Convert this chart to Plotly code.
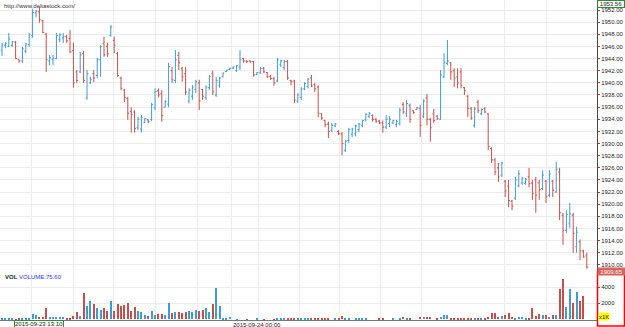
import plotly.graph_objects as go

# ---------------- data (5-minute bars) ----------------
open_ = [
    1945.4, 1946.2, 1946.0, 1946.2, 1946.7, 1943.9, 1943.6, 1945.2, 1946.3, 1947.8,
    1951.5, 1951.7, 1950.2, 1948.0, 1943.6, 1943.8, 1944.0, 1947.2, 1947.4, 1947.6,
    1947.3, 1945.3, 1941.8, 1941.8, 1944.8, 1937.5, 1940.0, 1941.5, 1941.2, 1943.8,
    1946.5, 1946.0, 1947.8, 1947.0, 1944.8, 1940.8, 1938.8, 1937.4, 1935.3, 1935.2,
    1932.6, 1932.4, 1933.5, 1933.9, 1934.0, 1935.9, 1938.7, 1938.2, 1936.0, 1936.5,
    1942.0, 1940.4, 1944.5, 1942.3, 1941.5, 1937.0, 1937.8, 1938.9, 1940.0, 1938.9,
    1937.6, 1939.2, 1941.5, 1938.0, 1939.6, 1941.0, 1941.85, 1942.2, 1942.4, 1942.0,
    1942.6, 1944.0, 1943.6, 1943.6, 1943.5, 1941.4, 1941.6, 1942.4, 1941.7, 1941.0,
    1940.7, 1940.3, 1943.0, 1942.5, 1943.5, 1940.4, 1940.3, 1937.0, 1937.6, 1939.0,
    1939.4, 1940.8, 1939.7, 1939.3, 1934.9, 1933.8, 1933.2, 1932.2, 1932.9, 1932.0,
    1931.6, 1928.9, 1930.5, 1931.5, 1931.6, 1932.3, 1933.0, 1933.9, 1934.5, 1934.6,
    1934.0, 1933.7, 1933.4, 1932.7, 1933.3, 1933.4, 1933.1, 1933.3, 1936.4, 1935.0,
    1936.3, 1935.4, 1935.6, 1935.8, 1934.5, 1937.5, 1934.0, 1934.9, 1934.5, 1934.0,
    1941.0, 1943.2, 1943.3, 1942.0, 1941.0, 1941.8, 1939.2, 1937.8, 1935.7, 1933.0,
    1936.8, 1934.9, 1935.8, 1934.9, 1929.2, 1927.3, 1926.0, 1924.8, 1923.8, 1923.0,
    1920.5, 1921.0, 1923.0, 1923.5, 1923.4, 1924.5, 1923.5, 1924.0, 1923.5, 1922.6,
    1923.8, 1921.5, 1923.8, 1922.0, 1925.3, 1918.2, 1915.7, 1916.9, 1918.2, 1913.0,
    1913.8, 1912.3, 1911.5,
]
high = [
    1946.6, 1946.7, 1948.2, 1946.9, 1946.9, 1943.9, 1945.9, 1946.6, 1948.2, 1952.2,
    1952.0, 1952.5, 1950.4, 1948.2, 1944.6, 1944.6, 1948.2, 1948.2, 1948.2, 1947.9,
    1948.7, 1946.6, 1942.1, 1945.1, 1945.3, 1942.1, 1941.0, 1942.1, 1944.1, 1946.2,
    1947.6, 1946.6, 1949.5, 1947.6, 1945.1, 1941.0, 1939.0, 1937.7, 1936.0, 1935.5,
    1934.4, 1934.7, 1934.2, 1934.0, 1936.7, 1939.1, 1939.1, 1938.8, 1937.2, 1943.3,
    1942.6, 1945.4, 1945.1, 1942.6, 1942.6, 1939.1, 1939.6, 1940.5, 1940.5, 1939.0,
    1939.6, 1941.3, 1942.0, 1941.0, 1941.0, 1941.7, 1942.1, 1942.5, 1942.7, 1942.9,
    1945.4, 1944.1, 1943.7, 1943.7, 1943.6, 1941.8, 1942.6, 1942.6, 1941.8, 1941.3,
    1941.0, 1944.1, 1943.8, 1943.8, 1943.8, 1940.5, 1940.5, 1938.3, 1939.3, 1940.1,
    1940.8, 1941.3, 1940.0, 1939.6, 1935.0, 1933.9, 1933.6, 1933.4, 1933.4, 1932.2,
    1931.9, 1930.6, 1932.6, 1932.6, 1933.1, 1933.4, 1933.9, 1935.0, 1935.2, 1934.8,
    1934.2, 1933.9, 1933.8, 1934.7, 1934.5, 1933.9, 1933.9, 1935.9, 1936.8, 1937.2,
    1936.6, 1935.5, 1936.0, 1936.3, 1937.3, 1938.2, 1934.2, 1935.7, 1934.7, 1942.1,
    1944.9, 1947.06, 1943.4, 1942.4, 1942.4, 1942.4, 1939.3, 1938.0, 1936.0, 1936.0,
    1937.2, 1935.8, 1936.0, 1935.0, 1929.4, 1927.6, 1926.8, 1927.0, 1924.0, 1924.0,
    1920.7, 1924.5, 1925.6, 1924.5, 1924.3, 1926.0, 1924.0, 1924.5, 1924.0, 1925.6,
    1924.0, 1925.6, 1924.0, 1927.0, 1926.0, 1918.6, 1919.0, 1920.2, 1918.6, 1916.3,
    1914.2, 1912.5, 1912.0,
]
low = [
    1944.4, 1945.7, 1945.9, 1945.9, 1943.9, 1943.3, 1943.3, 1944.9, 1945.9, 1947.4,
    1950.8, 1949.9, 1948.2, 1941.8, 1942.9, 1942.9, 1943.9, 1946.7, 1946.6, 1946.6,
    1944.9, 1939.2, 1940.0, 1941.6, 1940.0, 1937.2, 1939.8, 1940.1, 1940.8, 1941.0,
    1944.3, 1944.3, 1947.6, 1944.9, 1941.0, 1938.8, 1936.8, 1933.9, 1931.8, 1931.8,
    1932.2, 1931.8, 1933.4, 1933.4, 1933.7, 1935.5, 1937.6, 1933.6, 1935.9, 1936.0,
    1940.0, 1940.0, 1942.1, 1940.2, 1938.0, 1936.6, 1937.2, 1938.3, 1935.5, 1937.2,
    1937.2, 1938.8, 1938.0, 1937.7, 1939.2, 1940.9, 1941.8, 1942.1, 1942.3, 1941.8,
    1942.1, 1943.3, 1943.3, 1943.3, 1941.0, 1941.3, 1941.5, 1941.6, 1940.8, 1940.5,
    1939.5, 1940.1, 1942.6, 1942.1, 1940.5, 1939.6, 1936.7, 1936.7, 1937.2, 1938.8,
    1939.1, 1939.3, 1938.5, 1934.3, 1933.9, 1932.7, 1930.9, 1931.9, 1932.7, 1931.4,
    1928.1, 1928.6, 1930.1, 1931.1, 1931.2, 1931.9, 1932.7, 1933.6, 1934.2, 1933.6,
    1933.4, 1933.2, 1931.8, 1932.4, 1932.7, 1933.2, 1932.7, 1933.0, 1934.9, 1934.4,
    1933.4, 1934.9, 1935.5, 1931.1, 1934.2, 1933.0, 1930.3, 1933.4, 1933.9, 1933.9,
    1940.8, 1942.9, 1940.5, 1939.3, 1939.1, 1939.1, 1938.0, 1934.4, 1933.9, 1932.6,
    1935.0, 1934.7, 1935.0, 1928.9, 1926.8, 1924.8, 1923.7, 1924.5, 1921.2, 1919.5,
    1919.0, 1920.7, 1922.8, 1923.2, 1923.2, 1922.8, 1920.7, 1918.6, 1920.7, 1922.3,
    1920.2, 1921.2, 1921.2, 1921.9, 1917.4, 1913.3, 1915.3, 1916.1, 1912.0, 1912.0,
    1910.8, 1911.2, 1909.4,
]
close = [
    1946.2, 1946.5, 1947.2, 1946.8, 1944.0, 1943.6, 1945.6, 1946.4, 1948.0, 1951.6,
    1951.8, 1950.4, 1948.3, 1943.8, 1944.1, 1944.1, 1947.8, 1947.9, 1947.6, 1946.9,
    1945.1, 1940.0, 1940.4, 1944.6, 1940.4, 1941.5, 1940.6, 1940.8, 1943.9, 1946.0,
    1944.6, 1944.8, 1949.2, 1946.2, 1941.2, 1939.1, 1937.6, 1935.0, 1934.8, 1932.5,
    1934.0, 1934.3, 1934.1, 1933.6, 1936.4, 1938.6, 1938.0, 1934.6, 1936.9, 1942.7,
    1940.5, 1943.8, 1943.3, 1941.0, 1938.5, 1938.8, 1939.3, 1940.2, 1937.0, 1937.8,
    1939.3, 1941.0, 1938.5, 1940.4, 1940.8, 1941.6, 1942.1, 1942.4, 1942.6, 1942.8,
    1943.8, 1943.6, 1943.5, 1943.5, 1941.3, 1941.7, 1942.4, 1941.8, 1941.0, 1940.7,
    1940.0, 1943.8, 1943.6, 1943.5, 1940.8, 1940.2, 1937.2, 1938.0, 1939.0, 1939.9,
    1940.6, 1939.5, 1939.0, 1935.0, 1934.2, 1933.1, 1932.0, 1933.0, 1933.2, 1931.6,
    1930.0, 1930.4, 1932.3, 1932.4, 1932.9, 1933.2, 1933.8, 1934.8, 1935.0, 1934.0,
    1933.7, 1933.4, 1932.7, 1934.0, 1934.0, 1933.8, 1933.6, 1935.5, 1935.2, 1936.6,
    1934.0, 1935.1, 1935.9, 1933.0, 1937.0, 1934.0, 1932.6, 1933.8, 1934.1, 1941.3,
    1943.4, 1943.6, 1941.8, 1940.8, 1940.0, 1939.6, 1938.7, 1935.8, 1934.2, 1935.7,
    1935.4, 1935.6, 1935.2, 1929.5, 1927.3, 1925.3, 1924.5, 1926.8, 1922.2, 1920.6,
    1919.7, 1924.0, 1925.0, 1924.3, 1924.1, 1923.4, 1921.8, 1921.5, 1922.4, 1924.8,
    1921.2, 1925.0, 1922.3, 1925.8, 1918.6, 1915.7, 1918.3, 1918.4, 1915.2, 1915.4,
    1912.3, 1911.3, 1909.65,
]
volume = [
    125, 60, 125, 40, 30, 125, 60, 60, 40, 660,
    540, 250, 250, 1460, 330, 250, 330, 330, 330, 125,
    125, 410, 955, 454, 3250, 1660, 2290, 1910, 1370, 1160,
    1460, 1040, 2290, 1080, 1910, 1660, 1790, 2000, 1040, 1500,
    1080, 960, 540, 450, 1000, 540, 620, 660, 540, 2080,
    750, 960, 920, 750, 920, 1040, 960, 1160, 1000, 1200,
    1460, 960, 1910, 3875, 1660, 40, 40, 250, 0, 30,
    0, 0, 30, 0, 0, 200, 0, 30, 0, 0,
    30, 80, 60, 60, 80, 60, 125, 125, 80, 125,
    80, 80, 60, 80, 125, 80, 200, 0, 80, 100,
    375, 100, 100, 0, 40, 40, 40, 40, 0, 0,
    0, 200, 80, 0, 0, 80, 0, 125, 250, 100,
    80, 0, 0, 330, 250, 330, 250, 0, 125, 250,
    540, 540, 125, 100, 100, 200, 125, 125, 125, 200,
    125, 100, 125, 330, 750, 750, 250, 450, 540, 750,
    330, 125, 250, 250, 125, 125, 1370, 450, 620, 540,
    540, 330, 540, 540, 3750, 5000, 1580, 3750, 2000, 3450,
    2290, 2910, 0,
]
bar_index = list(range(len(close)))
# hourly grid positions (in bar units) and the two date labels
hour_grid = [8.8, 20.9, 32.9, 45.0, 57.4, 67.4, 75.3, 87.4, 99.4, 111.2, 123.5, 147.9, 160.0]
date_labels = ["2015-09-23 13:10", "2015-09-24 00:00"]
price_ticks = list(range(1910, 1954, 2))
vol_ticks = [2000, 4000]
top_value = "1953.56"
last_value = 1909.65

BLUE = "#3f9bd3"
RED = "#c4504c"
GRID = "#ececec"
FONT = "Arial"

vol_colors = [BLUE if c >= o else RED for o, c in zip(open_, close)]

fig = go.Figure()
fig.add_trace(go.Ohlc(
    x=bar_index, open=open_, high=high, low=low, close=close,
    increasing=dict(line=dict(color=BLUE, width=1)),
    decreasing=dict(line=dict(color=RED, width=1)),
    tickwidth=0.4, xaxis="x", yaxis="y", showlegend=False, hoverinfo="skip",
))
fig.add_trace(go.Bar(
    x=bar_index, y=volume, marker=dict(color=vol_colors, line=dict(width=0)),
    width=0.33, xaxis="x2", yaxis="y2", showlegend=False, hoverinfo="skip",
))

W, H = 625, 327
PLOT_W = 597
PLOT_H = 320
split = (PLOT_H - 271) / PLOT_H

xcommon = dict(
    range=[-0.59, 175.0], tickmode="array", tickvals=hour_grid, ticktext=[""] * len(hour_grid),
    showgrid=True, gridcolor=GRID, gridwidth=1, zeroline=False, ticks="",
    showticklabels=False, fixedrange=True,
)
fig.update_layout(
    width=W, height=H,
    margin=dict(l=0, r=W - PLOT_W, t=0, b=H - PLOT_H),
    paper_bgcolor="white", plot_bgcolor="white",
    xaxis=dict(**xcommon, domain=[0, 1], anchor="y", rangeslider=dict(visible=False)),
    xaxis2=dict(**xcommon, domain=[0, 1], anchor="y2", showline=True,
                linecolor="#777777", linewidth=1),
    yaxis=dict(
        domain=[split, 1], range=[1952 - 261 / 6.07, 1952 + 10 / 6.07],
        side="right", tickmode="array", tickvals=price_ticks,
        ticktext=[f"{v:.2f}" for v in price_ticks],
        showgrid=True, gridcolor=GRID, gridwidth=1, zeroline=False,
        ticks="outside", ticklen=2, tickcolor="#cc3333",
        showline=True, linecolor="#444444", linewidth=1,
        tickfont=dict(family=FONT, size=6, color="#222222"), fixedrange=True,
    ),
    yaxis2=dict(
        domain=[0, split], range=[-87.5, 6037.5], side="right",
        tickmode="array", tickvals=vol_ticks, ticktext=[str(v) for v in vol_ticks],
        showgrid=True, gridcolor=GRID, gridwidth=1, zeroline=False,
        ticks="outside", ticklen=2, tickcolor="#cc3333",
        showline=True, linecolor="#444444", linewidth=1,
        tickfont=dict(family=FONT, size=6, color="#222222"), fixedrange=True,
    ),
    bargap=0,
)

def px_x(x):
    return x / PLOT_W

def px_y(y):
    return (PLOT_H - y) / PLOT_H

annotations = [
    dict(text="http://www.deltastock.com/", xref="paper", yref="paper",
         x=px_x(2), y=px_y(1), xanchor="left", yanchor="top", showarrow=False,
         font=dict(family=FONT, size=6, color="#333333")),
    dict(text="<b>VOL</b>", xref="paper", yref="paper",
         x=px_x(3), y=px_y(272), xanchor="left", yanchor="top", showarrow=False,
         font=dict(family=FONT, size=6, color="#222222")),
    dict(text="VOLUME:75.60", xref="paper", yref="paper",
         x=px_x(17), y=px_y(272), xanchor="left", yanchor="top", showarrow=False,
         font=dict(family=FONT, size=6, color="#3333ff")),
    dict(text=date_labels[0], xref="paper", yref="paper",
         x=px_x(14), y=px_y(320), xanchor="left", yanchor="top", showarrow=False,
         bordercolor="#2e8b2e", borderwidth=1, borderpad=0, bgcolor="white", height=6,
         font=dict(family=FONT, size=6, color="#222222")),
    dict(text=date_labels[1], xref="paper", yref="paper",
         x=px_x(231), y=px_y(320), xanchor="left", yanchor="top", showarrow=False,
         font=dict(family=FONT, size=6, color="#222222")),
    dict(text=top_value, xref="paper", yref="paper",
         x=px_x(597), y=1, xanchor="left", yanchor="top", showarrow=False,
         bordercolor="#2e8b2e", borderwidth=1, borderpad=0, bgcolor="white",
         width=26, height=6,
         font=dict(family=FONT, size=6, color="#222222")),
    dict(text=f"{last_value:.2f}", xref="paper", yref="y",
         x=px_x(597), y=last_value, xanchor="left", yanchor="top", showarrow=False,
         borderpad=0, bgcolor="#d9625d", width=27, height=7,
         font=dict(family=FONT, size=6, color="white")),
    dict(text="x1K", xref="paper", yref="paper",
         x=px_x(598), y=px_y(312), xanchor="left", yanchor="top", showarrow=False,
         borderpad=0, bgcolor="#ffff00", height=7,
         font=dict(family=FONT, size=6, color="#222222")),
]
fig.update_layout(annotations=annotations)
fig.add_shape(type="rect", xref="paper", yref="paper",
              x0=px_x(597.5), x1=px_x(624.5), y0=px_y(326), y1=px_y(271.5),
              line=dict(color="#ff0000", width=1.5), fillcolor="rgba(0,0,0,0)")

fig.write_html("out.html")
